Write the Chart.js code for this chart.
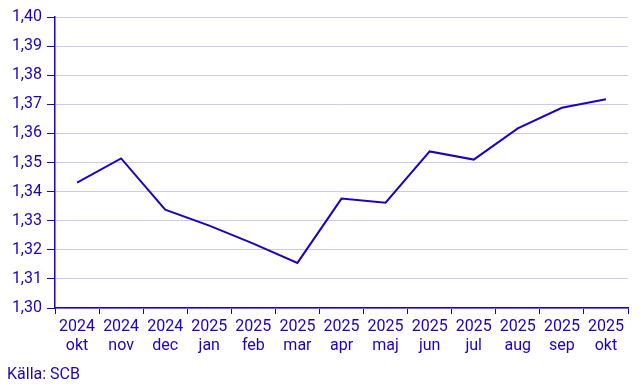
<!DOCTYPE html>
<html lang="sv">
<head>
  <meta charset="UTF-8" />
  <title>Index</title>
  <script src="https://cdn.jsdelivr.net/npm/chart.js"></script>
  <style>
    body { margin: 0; background: #fff; font-family: Roboto, sans-serif; }
    #wrap { position: relative; width: 643px; height: 386px; }
    #source { position: absolute; left: 7px; top: 364px; font-size: 16px; color: #1e00be; }
  </style>
</head>
<body>
  <div id="wrap">
    <canvas id="chartCanvas" width="643" height="386"></canvas>
    <div id="source">Källa: SCB</div>
  </div>

  <script>
    const years = ['2024', '2024', '2024', '2025', '2025', '2025', '2025', '2025', '2025', '2025', '2025', '2025', '2025'];
    const months = ['okt', 'nov', 'dec', 'jan', 'feb', 'mar', 'apr', 'maj', 'jun', 'jul', 'aug', 'sep', 'okt'];
    const values = [1.3431, 1.3514, 1.3338, 1.3283, 1.3221, 1.3155, 1.3376, 1.3362, 1.3538, 1.3510, 1.3617, 1.3688, 1.3717];

    const blue = '#1e00be';
    const gridColor = '#cdc8f0';

    const labels = years.map((y, i) => [y, months[i]]);

    new Chart(document.getElementById('chartCanvas'), {
      type: 'line',
      data: {
        labels: labels,
        datasets: [{
          data: values,
          borderColor: blue,
          borderWidth: 2,
          pointRadius: 0,
          tension: 0,
          fill: false
        }]
      },
      options: {
        responsive: false,
        animation: false,
        layout: { padding: { left: 0, top: 17, right: 15, bottom: 0 } },
        plugins: { legend: { display: false }, tooltip: { enabled: false } },
        scales: {
          x: {
            offset: true,
            grid: { offset: true, drawOnChartArea: false, tickLength: 6, tickColor: blue },
            border: { color: blue, width: 1.5 },
            ticks: { color: blue, font: { family: 'Roboto', size: 16 }, maxRotation: 0, autoSkip: false, padding: 3, lineHeight: 1.25 },
            afterFit: s => { s.height = 78; }
          },
          y: {
            min: 1.30,
            max: 1.40,
            ticks: {
              stepSize: 0.01,
              color: blue,
              font: { family: 'Roboto', size: 16 },
              padding: 5,
              callback: v => v.toFixed(2).replace('.', ',')
            },
            grid: { color: gridColor, tickColor: blue, tickLength: 8 },
            border: { color: blue, width: 1.5 },
            afterFit: s => { s.width = 55; }
          }
        }
      }
    });
  </script>
</body>
</html>
